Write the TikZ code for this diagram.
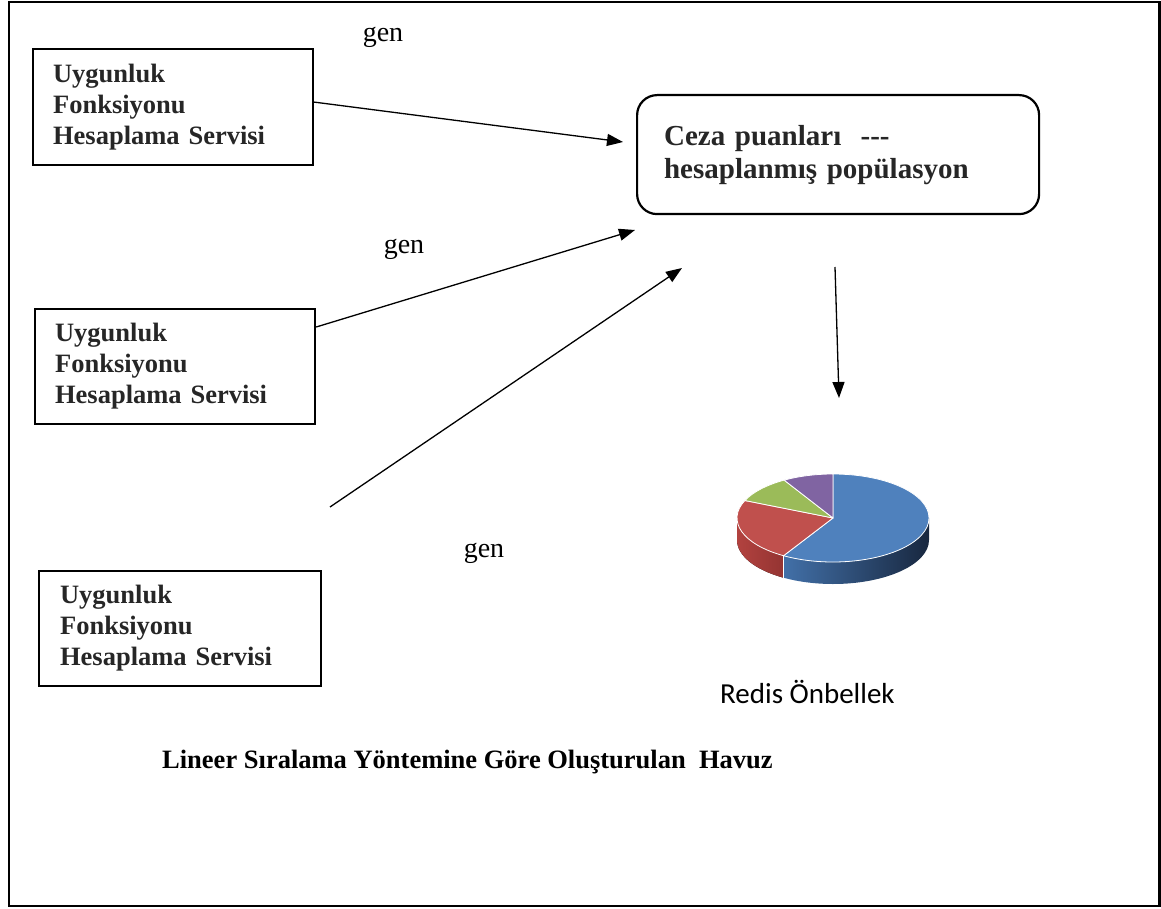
\documentclass[tikz,border=0pt]{standalone}
\usepackage{fontspec}
\setmainfont{Liberation Serif}
\newfontfamily\calibrifont{Carlito}
\usetikzlibrary{arrows.meta}

\definecolor{boxtext}{HTML}{262626}
\definecolor{pieblue}{HTML}{4F81BD}
\definecolor{piered}{HTML}{C0504D}
\definecolor{piegreen}{HTML}{9BBB59}
\definecolor{piepurple}{HTML}{8064A2}
\definecolor{sideblueA}{HTML}{4270A8}
\definecolor{sideblueB}{HTML}{2B4E7A}
\definecolor{sideblueC}{HTML}{18273F}
\definecolor{sideredA}{HTML}{B2423F}
\definecolor{sideredB}{HTML}{943432}

\begin{document}
\begin{tikzpicture}[x=1pt,y=-1pt,
  svcbox/.style={draw, line width=2.2pt, text width=240pt, inner xsep=20pt,
    inner ysep=0pt, minimum height=116pt, align=left, anchor=north west,
    font=\fontsize{26.5}{31}\selectfont\bfseries, text=boxtext},
  poolbox/.style={draw, line width=2.2pt, rounded corners=20pt, text width=348pt,
    inner xsep=27pt, inner ysep=0pt, minimum height=119pt, align=left,
    anchor=north west, font=\fontsize{29}{33}\selectfont\bfseries, text=boxtext},
  genlabel/.style={anchor=base, inner sep=0pt, font=\fontsize{28}{30}\selectfont},
  flow/.style={line width=1.3pt, -{Triangle[length=16pt,width=12pt]}},
  slice/.style={draw=white, line width=0.8pt, line join=round}
]
\useasboundingbox (0,0) rectangle (1161,909);

% outer frame
\draw[line width=2.2pt] (8.7,2.2) rectangle (1159.5,906);

% service boxes
\node[svcbox] (s1) at (32,48) {Uygunluk\\Fonksiyonu\\Hesaplama Servisi};
\node[svcbox, minimum height=115pt] (s2) at (34,308) {Uygunluk\\Fonksiyonu\\Hesaplama Servisi};
\node[svcbox, minimum height=115pt, inner xsep=21pt] (s3) at (38,570) {Uygunluk\\Fonksiyonu\\Hesaplama Servisi};

% population box
\node[poolbox] (pop) at (636,94) {Ceza puanları\ \ {-}{-}{-}\\hesaplanmış popülasyon};

% free ends of the connectors
\coordinate (t1) at (623,142);
\coordinate (t2) at (635,230);
\coordinate (t3) at (682,268);
\coordinate (a3) at (330,507);
\coordinate (d0) at (835,267);
\coordinate (d1) at (839,398);

\draw[flow] ([yshift=5pt]s1.east) -- (t1);
\draw[flow] ([yshift=-19pt]s2.north east) -- (t2);
\draw[flow] (a3) -- (t3);
\draw[flow] (d0) -- (d1);

% labels
\node[genlabel] (g1) at (383,42) {gen};
\node[genlabel] (g2) at (404,254) {gen};
\node[genlabel] (g3) at (484,557) {gen};

% Redis cache pie
\coordinate (pie) at (833,518);
\begin{scope}[shift={(pie)}, yscale=-1]
  % side walls
  \fill[left color=sideredA, right color=sideredB]
    (180:96 and 44) arc[start angle=180, end angle=239, x radius=96, y radius=44]
    -- ++(0,-22) arc[start angle=239, end angle=180, x radius=96, y radius=44] -- cycle;
  \shade[left color=sideblueA, middle color=sideblueB, right color=sideblueC]
    (239:96 and 44) arc[start angle=239, end angle=360, x radius=96, y radius=44]
    -- ++(0,-22) arc[start angle=360, end angle=239, x radius=96, y radius=44] -- cycle;
  \draw[white, line width=0.8pt] (239:96 and 44) -- ++(0,-22);
  % top face
  \filldraw[slice, fill=pieblue] (0,0) -- (90:96 and 44)
    arc[start angle=90, end angle=-121, x radius=96, y radius=44] -- cycle;
  \filldraw[slice, fill=piered] (0,0) -- (239:96 and 44)
    arc[start angle=239, end angle=156.6, x radius=96, y radius=44] -- cycle;
  \filldraw[slice, fill=piegreen] (0,0) -- (156.6:96 and 44)
    arc[start angle=156.6, end angle=120.6, x radius=96, y radius=44] -- cycle;
  \filldraw[slice, fill=piepurple] (0,0) -- (120.6:96 and 44)
    arc[start angle=120.6, end angle=90, x radius=96, y radius=44] -- cycle;
\end{scope}

\node[anchor=base west, inner sep=0pt, font=\calibrifont\fontsize{29}{31}\selectfont]
  (redis) at (720,703) {Redis Önbellek};

\node[anchor=base west, inner sep=0pt, font=\fontsize{26.5}{30}\selectfont\bfseries]
  (cap) at (162,768) {Lineer Sıralama Yöntemine Göre Oluşturulan\ \ Havuz};
\end{tikzpicture}
\end{document}
